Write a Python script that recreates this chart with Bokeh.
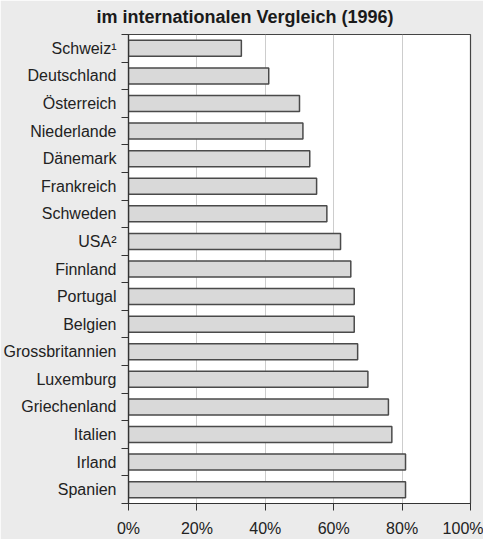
from bokeh.plotting import figure
from bokeh.models import Range1d, FixedTicker, Title, ColumnDataSource
from bokeh.embed import file_html
from bokeh.resources import INLINE

countries = ["Schweiz¹", "Deutschland", "Österreich", "Niederlande", "Dänemark",
             "Frankreich", "Schweden", "USA²", "Finnland", "Portugal", "Belgien",
             "Grossbritannien", "Luxemburg", "Griechenland", "Italien", "Irland", "Spanien"]
values = [33, 41, 50, 51, 53, 55, 58, 62, 65, 66, 66, 67, 70, 76, 77, 81, 81]
x_ticks = [0, 20, 40, 60, 80, 100]
title_text = "im internationalen Vergleich (1996)"

FONT = "Liberation Sans"
n = len(countries)
pos = [i + 0.5 for i in range(n)]

p = figure(width=483, height=539, output_backend="svg", toolbar_location=None,
           x_range=Range1d(0, 100), y_range=Range1d(n, 0),
           min_border_left=127, min_border_right=13, min_border_top=34,
           min_border_bottom=34)
p.background_fill_color = "white"
p.border_fill_color = "#ebebeb"
p.outline_line_color = "#444444"
p.outline_line_width = 1.2

src = ColumnDataSource(dict(y=pos, v=values, name=countries))
p.hbar(y="y", right="v", left=0, height=0.58, source=src,
       fill_color="#d9d9d9", line_color="#4a4a4a", line_width=1.5)

p.xgrid.ticker = FixedTicker(ticks=x_ticks)
p.xgrid.grid_line_color = "#9a9a9a"
p.xgrid.grid_line_width = 1
p.xgrid.grid_line_dash = "1 1"
p.ygrid.visible = False

xa = p.xaxis[0]
xa.ticker = FixedTicker(ticks=x_ticks)
xa.major_label_overrides = {t: f"{t}%" for t in x_ticks}
xa.major_label_text_font = FONT
xa.major_label_text_font_size = "16px"
xa.major_label_text_color = "#222222"
xa.major_tick_in = 0
xa.major_tick_out = 7
xa.minor_tick_line_color = None
xa.axis_line_color = "#333333"
xa.axis_line_width = 1.2
xa.major_tick_line_color = "#333333"
xa.major_label_standoff = 9

ya = p.yaxis[0]
ya.ticker = FixedTicker(ticks=pos, minor_ticks=list(range(n + 1)))
ya.major_label_overrides = {v: c for v, c in zip(pos, countries)}
ya.major_label_text_font = FONT
ya.major_label_text_font_size = "16px"
ya.major_label_text_color = "#222222"
ya.major_tick_line_color = None
ya.major_tick_in = 0
ya.major_tick_out = 0
ya.minor_tick_in = 0
ya.minor_tick_out = 7
ya.minor_tick_line_color = "#333333"
ya.axis_line_color = "#333333"
ya.axis_line_width = 1.2
ya.major_label_standoff = 5

p.title = Title(text=title_text, align="left", offset=-32, vertical_align="top",
                text_font=FONT, text_font_size="18px", text_font_style="bold",
                text_color="#1a1a1a", standoff=11)

open("out.html", "w").write(file_html(p, INLINE))
